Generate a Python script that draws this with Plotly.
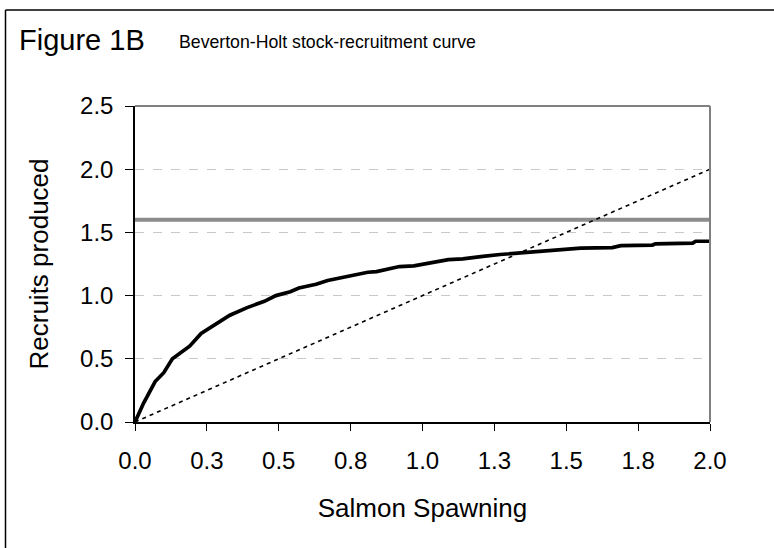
import plotly.graph_objects as go

# ---- data ----
spawners = [0, 0.03, 0.07, 0.10, 0.13, 0.19, 0.23, 0.28, 0.33, 0.39, 0.45, 0.49,
            0.54, 0.57, 0.63, 0.67, 0.74, 0.81, 0.84, 0.92, 0.97, 1.04, 1.09,
            1.14, 1.17, 1.21, 1.27, 1.36, 1.39, 1.44, 1.55, 1.66, 1.69, 1.80,
            1.81, 1.94, 1.95, 2.0]
recruits = [0, 0.15, 0.32, 0.39, 0.50, 0.60, 0.70, 0.775, 0.845, 0.905, 0.955, 1.00,
            1.03, 1.06, 1.09, 1.12, 1.155, 1.185, 1.19, 1.23, 1.235, 1.265, 1.285,
            1.29, 1.30, 1.31, 1.325, 1.34, 1.35, 1.355, 1.375, 1.38, 1.395, 1.40,
            1.41, 1.415, 1.43, 1.43]
replacement_x = [0, 2.0]
replacement_y = [0, 2.0]
asymptote_x = [0, 2.0]
asymptote_y = [1.6, 1.6]

x_tickvals = [0, 0.25, 0.5, 0.75, 1.0, 1.25, 1.5, 1.75, 2.0]
x_ticktext = ["0.0", "0.3", "0.5", "0.8", "1.0", "1.3", "1.5", "1.8", "2.0"]
y_tickvals = [0, 0.5, 1.0, 1.5, 2.0, 2.5]
y_ticktext = ["0.0", "0.5", "1.0", "1.5", "2.0", "2.5"]

title_main = "Figure 1B"
title_sub = "Beverton-Holt stock-recruitment curve"
x_title = "Salmon Spawning"
y_title = "Recruits produced"

FONT = "Liberation Sans, Arial, sans-serif"

fig = go.Figure()
fig.add_trace(go.Scatter(x=asymptote_x, y=asymptote_y, mode="lines",
                         line=dict(color="#8c8c8c", width=4), hoverinfo="skip"))
fig.add_trace(go.Scatter(x=replacement_x, y=replacement_y, mode="lines",
                         line=dict(color="black", width=1.6, dash="4px,4px"), hoverinfo="skip"))
fig.add_trace(go.Scatter(x=spawners, y=recruits, mode="lines",
                         line=dict(color="black", width=3.7), hoverinfo="skip"))

W, H = 774, 548
L, R, T, B = 135, 64, 106, 126
pw, ph = W - L - R, H - T - B

def px(xp):
    return (xp - L) / pw

def py(yp):
    return (H - B - yp) / ph

shapes = [
    # gray top and right frame of plot area
    dict(type="line", xref="paper", yref="paper", x0=0, x1=1, y0=1, y1=1,
         line=dict(color="#808080", width=2)),
    dict(type="line", xref="paper", yref="paper", x0=1, x1=1, y0=0, y1=1,
         line=dict(color="#808080", width=2)),
    # outer chart border (left and top)
    dict(type="line", xref="paper", yref="paper", x0=px(5.5), x1=px(5.5), y0=py(10), y1=py(560),
         line=dict(color="black", width=1.5)),
    dict(type="line", xref="paper", yref="paper", x0=px(5.5), x1=px(790), y0=py(10), y1=py(10),
         line=dict(color="black", width=1.5)),
]

annotations = [
    dict(text=title_main, xref="paper", yref="paper", x=px(17), y=py(40),
         xanchor="left", yanchor="middle", showarrow=False,
         font=dict(family=FONT, size=29, color="black")),
    dict(text=title_sub, xref="paper", yref="paper", x=px(177), y=py(42),
         xanchor="left", yanchor="middle", showarrow=False,
         font=dict(family=FONT, size=17.7, color="black")),
]

fig.update_layout(
    width=W, height=H,
    margin=dict(l=L, r=R, t=T, b=B, pad=0),
    paper_bgcolor="white", plot_bgcolor="white",
    showlegend=False,
    shapes=shapes, annotations=annotations,
    font=dict(family=FONT, color="black"),
    xaxis=dict(range=[0, 2.0], tickvals=x_tickvals, ticktext=x_ticktext,
               showgrid=False, zeroline=False, showline=True, linecolor="black", linewidth=1.5,
               ticks="outside", ticklen=7, tickcolor="black", tickwidth=1,
               ticklabelstandoff=9,
               tickfont=dict(size=24, family=FONT),
               title=dict(text=x_title, font=dict(size=26, family=FONT), standoff=26)),
    yaxis=dict(range=[0, 2.5], tickvals=y_tickvals, ticktext=y_ticktext,
               showgrid=True, gridcolor="#c8c8c8", griddash="dash", gridwidth=1,
               zeroline=False, showline=True, linecolor="black", linewidth=1.5,
               ticks="outside", ticklen=8, tickcolor="black", tickwidth=1,
               ticklabelstandoff=7,
               tickfont=dict(size=24, family=FONT),
               title=dict(text=y_title, font=dict(size=26, family=FONT), standoff=24)),
)

fig.write_html("out.html", config={"displayModeBar": False},
               post_script="document.body.style.margin='0';")
